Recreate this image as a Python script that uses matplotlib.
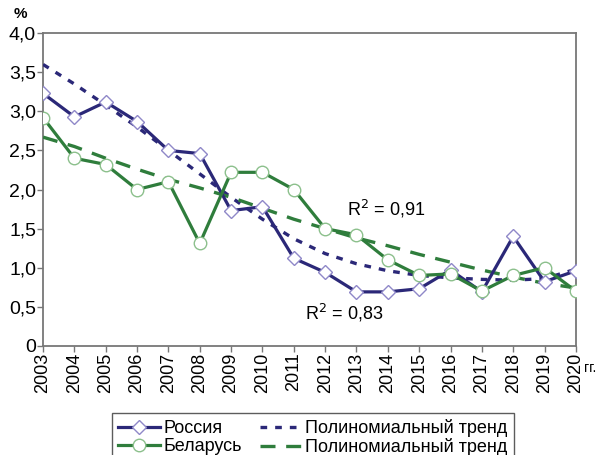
import matplotlib
matplotlib.use('Agg')
import matplotlib.pyplot as plt

years = list(range(2003, 2021))
russia = [3.23, 2.93, 3.12, 2.87, 2.50, 2.46, 1.73, 1.78, 1.12, 0.94, 0.69, 0.69,
          0.73, 0.97, 0.69, 1.40, 0.82, 0.96]
belarus = [2.92, 2.40, 2.32, 2.00, 2.10, 1.31, 2.22, 2.22, 2.00, 1.50, 1.42, 1.10,
           0.90, 0.92, 0.70, 0.90, 1.00, 0.70]
# polynomial trends
russia_trend = [3.60, 3.35, 3.08, 2.80, 2.50, 2.20, 1.90, 1.62, 1.37, 1.18, 1.05, 0.96,
                0.90, 0.87, 0.85, 0.84, 0.86, 0.98]
belarus_trend = [2.67, 2.55, 2.40, 2.26, 2.13, 2.02, 1.90, 1.76, 1.62, 1.50, 1.38, 1.28,
                 1.17, 1.07, 0.97, 0.88, 0.80, 0.74]
yticks = [0, 0.5, 1.0, 1.5, 2.0, 2.5, 3.0, 3.5, 4.0]
ytick_labels = ['0', '0,5', '1,0', '1,5', '2,0', '2,5', '3,0', '3,5', '4,0']

NAVY = '#2b2878'
GREEN = '#2f7d3c'

plt.rcParams['font.family'] = ['Liberation Sans', 'DejaVu Sans']

fig = plt.figure(figsize=(5.98, 4.55), dpi=100)
ax = fig.add_axes([0.072, 0.240, 0.891, 0.687])

ax.plot(years, russia, '-', color=NAVY, lw=2.3, marker='D', ms=7,
        mfc='white', mec='#8f88c8', mew=1.0, label='Россия', zorder=4)
ax.plot(years, russia_trend, color=NAVY, lw=2.4, ls=(0, (2.0, 2.4)),
        label='Полиномиальный тренд', zorder=3)
ax.plot(years, belarus, '-', color=GREEN, lw=2.3, marker='o', ms=9,
        mfc='white', mec='#8cc08c', mew=1.0, label='Беларусь', zorder=4)
ax.plot(years, belarus_trend, color=GREEN, lw=2.4, ls=(0, (4.5, 3.2)),
        label='Полиномиальный тренд', zorder=3)

ax.set_xlim(2003, 2020)
ax.set_ylim(0, 4.0)
ax.set_xticks(years)
ax.set_xticklabels([str(y) for y in years], rotation=90, fontsize=13)
ax.set_yticks(yticks)
ax.set_yticklabels(ytick_labels, fontsize=14)
ax.tick_params(direction='out', length=4, width=1, color='#777777', pad=1)
for s in ax.spines.values():
    s.set_color('#777777')
    s.set_linewidth(1.3)

ax.text(-0.056, 1.04, '%', transform=ax.transAxes, fontsize=11,
        fontweight='bold', va='bottom')
ax.text(1.016, -0.085, 'гг.', transform=ax.transAxes, fontsize=10)
ax.text(2012.7, 1.75, 'R$^2$ = 0,91', fontsize=13, va='center')
ax.text(2011.35, 0.42, 'R$^2$ = 0,83', fontsize=13, va='center')

h, l = ax.get_legend_handles_labels()
order = [0, 2, 1, 3]
leg = fig.legend([h[i] for i in order], [l[i] for i in order], ncol=2,
                 loc='upper center', bbox_to_anchor=(0.523, 0.112), fontsize=13,
                 frameon=True, fancybox=False, edgecolor='#333333',
                 handlelength=2.3, handletextpad=0.2, columnspacing=1.0,
                 labelspacing=0.05, borderpad=0.35)
leg.get_frame().set_linewidth(1.0)

fig.savefig('out.png', dpi=100)
